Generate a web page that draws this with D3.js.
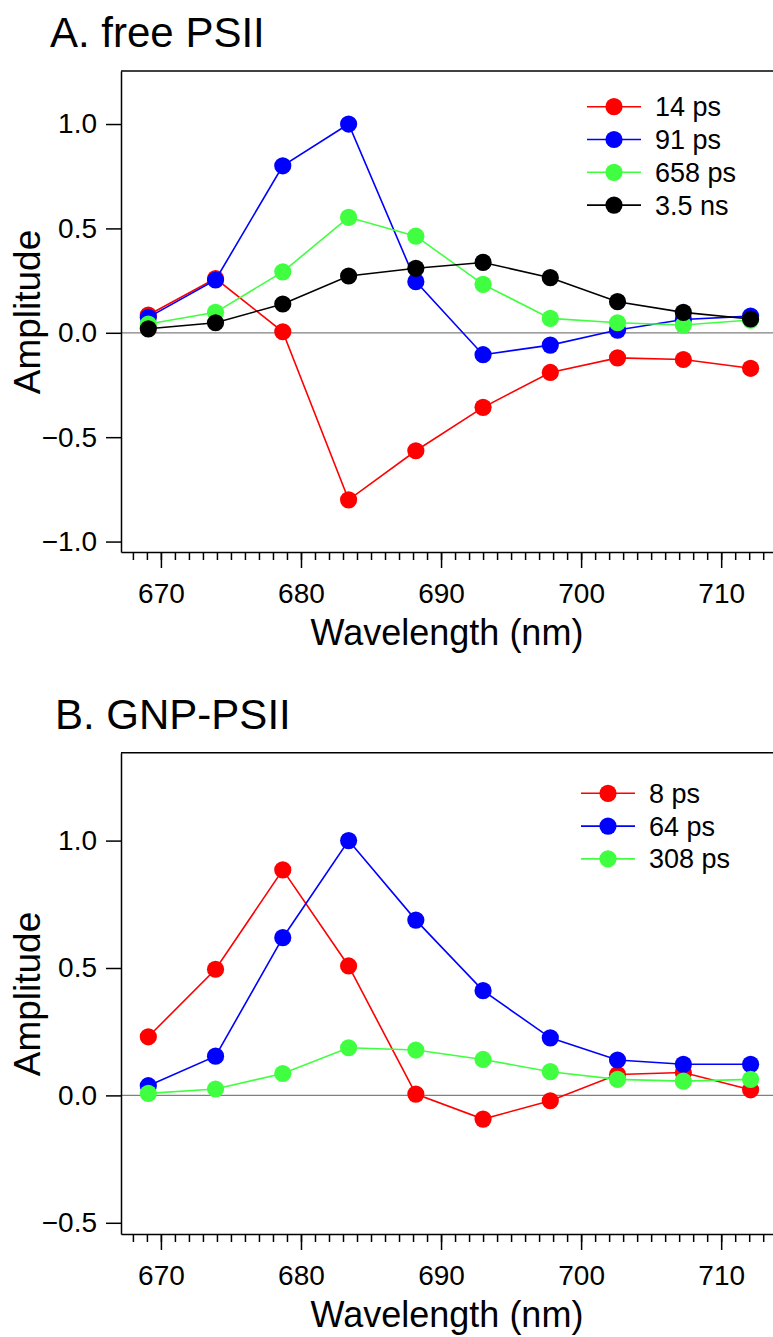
<!DOCTYPE html>
<html>
<head>
<meta charset="utf-8">
<title>PSII decay-associated spectra</title>
<style>
    body { margin: 0; background: #fff; }
    svg { display: block; font-family: "Liberation Sans", Arial, sans-serif; }
</style>
</head>
<body>
<main></main>
<script src="https://cdn.jsdelivr.net/npm/d3@7/dist/d3.min.js"></script>
<script>
    // wavelengths (nm), same for both panels
    var wavelengths = [669.1, 673.9, 678.7, 683.4, 688.2, 693.0, 697.8, 702.6, 707.3, 712.1];

    // A. free PSII
    var freeLabels = ["14 ps", "91 ps", "658 ps", "3.5 ns"];
    var free14ps  = [0.085, 0.26, 0.005, -0.80, -0.565, -0.357, -0.19, -0.12, -0.128, -0.17];
    var free91ps  = [0.074, 0.253, 0.80, 1.0, 0.245, -0.105, -0.059, 0.013, 0.064, 0.08];
    var free658ps = [0.042, 0.098, 0.292, 0.553, 0.463, 0.232, 0.069, 0.048, 0.037, 0.061];
    var free3_5ns = [0.019, 0.048, 0.138, 0.272, 0.309, 0.337, 0.264, 0.149, 0.098, 0.066];

    // B. GNP-PSII
    var gnpLabels = ["8 ps", "64 ps", "308 ps"];
    var gnp8ps   = [0.23, 0.495, 0.885, 0.508, 0.005, -0.093, -0.021, 0.082, 0.09, 0.022];
    var gnp64ps  = [0.038, 0.154, 0.619, 1.0, 0.688, 0.411, 0.226, 0.139, 0.122, 0.122];
    var gnp308ps = [0.008, 0.025, 0.086, 0.187, 0.178, 0.141, 0.093, 0.063, 0.056, 0.063];

    var majorTicksX = [670, 680, 690, 700, 710];
    var ticksYA = [-1.0, -0.5, 0.0, 0.5, 1.0];
    var ticksYB = [-0.5, 0.0, 0.5, 1.0];

    var colors = ["#ff0000", "#0000ff", "#40ff40", "#000000"];

    var width = 773;
    var height = 1337;
    var svg = d3.select("main")
        .append("svg")
        .attr("width", width)
        .attr("height", height);

    function drawPanel(p) {
        var g = svg.append("g");
        var x = d3.scaleLinear().domain([667.15, 713.7]).range([121, 773]);
        var y = d3.scaleLinear().domain(p.yDomain).range([p.bottom, p.top]);

        // title
        g.append("text")
            .attr("x", p.titleX)
            .attr("y", p.titleY)
            .attr("font-size", 42)
            .text(p.title);

        // zero line
        g.append("line")
            .attr("x1", 121).attr("x2", 773)
            .attr("y1", y(0)).attr("y2", y(0))
            .attr("stroke", "#808080")
            .attr("stroke-width", 1.2);

        // top border
        g.append("line")
            .attr("x1", 121).attr("x2", 773)
            .attr("y1", p.top).attr("y2", p.top)
            .attr("stroke", "#000")
            .attr("stroke-width", 1.5);

        // minor x ticks
        var minor = d3.range(668, 714);
        g.append("g")
            .attr("transform", "translate(0," + p.bottom + ")")
            .call(d3.axisBottom(x).tickValues(minor).tickSize(8).tickSizeOuter(0).tickFormat(""))
            .call(function (a) { a.select(".domain").remove(); })
            .selectAll("line").attr("stroke-width", 1.5);

        // major x axis
        var xa = g.append("g")
            .attr("transform", "translate(0," + p.bottom + ")")
            .call(d3.axisBottom(x).tickValues(majorTicksX).tickSize(16).tickSizeOuter(0)
                .tickPadding(15).tickFormat(d3.format("d")));
        xa.selectAll("text").attr("font-size", 28).attr("fill", "#000");
        xa.selectAll("line, path").attr("stroke-width", 1.5);
        xa.attr("font-family", null);

        // y axis
        var ya = g.append("g")
            .attr("transform", "translate(121,0)")
            .call(d3.axisLeft(y).tickValues(p.yTicks).tickSize(15).tickSizeOuter(0)
                .tickPadding(9).tickFormat(d3.format(".1f")));
        ya.selectAll("text").attr("font-size", 28).attr("fill", "#000");
        ya.selectAll("line, path").attr("stroke-width", 1.5);
        ya.attr("font-family", null);

        // axis titles
        g.append("text")
            .attr("x", 447)
            .attr("y", p.bottom + 93)
            .attr("text-anchor", "middle")
            .attr("font-size", 36)
            .text("Wavelength (nm)");
        g.append("text")
            .attr("transform", "translate(40," + p.yLabelY + ") rotate(-90)")
            .attr("text-anchor", "middle")
            .attr("font-size", 37)
            .text("Amplitude");

        // series
        var line = d3.line()
            .x(function (d, i) { return x(wavelengths[i]); })
            .y(function (d) { return y(d); });

        p.series.forEach(function (s, k) {
            g.append("path")
                .datum(s)
                .attr("d", line)
                .attr("fill", "none")
                .attr("stroke", colors[k])
                .attr("stroke-width", 1.6);
            g.selectAll(".dot" + k)
                .data(s)
                .enter()
                .append("circle")
                .attr("cx", function (d, i) { return x(wavelengths[i]); })
                .attr("cy", function (d) { return y(d); })
                .attr("r", 8.6)
                .attr("fill", colors[k]);
        });

        // legend
        var lg = g.append("g");
        p.labels.forEach(function (lab, k) {
            var ly = p.legendY + k * 32.8;
            lg.append("line")
                .attr("x1", p.legendX).attr("x2", p.legendX + 54)
                .attr("y1", ly).attr("y2", ly)
                .attr("stroke", colors[k])
                .attr("stroke-width", 1.6);
            lg.append("circle")
                .attr("cx", p.legendX + 27)
                .attr("cy", ly)
                .attr("r", 8.6)
                .attr("fill", colors[k]);
            lg.append("text")
                .attr("x", p.legendX + 68)
                .attr("y", ly)
                .attr("dy", "0.35em")
                .attr("font-size", 27)
                .text(lab);
        });
    }

    drawPanel({
        title: "A. free PSII", titleX: 50, titleY: 47,
        top: 71, bottom: 552, yDomain: [-1.05, 1.254], yTicks: ticksYA,
        yLabelY: 312,
        series: [free14ps, free91ps, free658ps, free3_5ns],
        labels: freeLabels, legendX: 587, legendY: 106.7
    });

    drawPanel({
        title: "B. GNP-PSII", titleX: 55, titleY: 729,
        top: 752.7, bottom: 1234, yDomain: [-0.544, 1.345], yTicks: ticksYB,
        yLabelY: 994,
        series: [gnp8ps, gnp64ps, gnp308ps],
        labels: gnpLabels, legendX: 581, legendY: 793.3
    });
</script>
</body>
</html>
